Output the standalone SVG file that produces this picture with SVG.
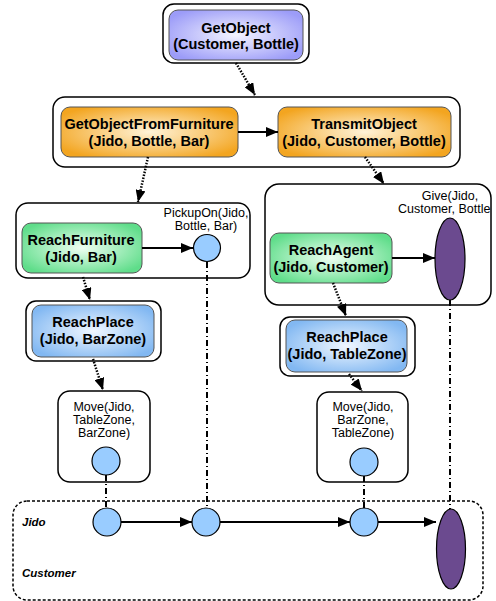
<svg xmlns="http://www.w3.org/2000/svg" width="496" height="601" viewBox="0 0 496 601">
<style>
.outer{fill:#fff;stroke:#000;stroke-width:1.5}
.inner{stroke:#555;stroke-width:1}
.lbl{font-family:"Liberation Sans",Arial,sans-serif;font-size:14.5px;font-weight:bold;text-anchor:middle;fill:#000}
.sm{font-family:"Liberation Sans",Arial,sans-serif;font-size:12.5px;text-anchor:middle;fill:#000}
.lane{font-family:"Liberation Sans",Arial,sans-serif;font-size:11.5px;font-weight:bold;font-style:italic;fill:#000}
.circ{fill:#99ccff;stroke:#000;stroke-width:1.2}
.ell{fill:#6b4a8f;stroke:#000;stroke-width:1.2}
.solid{stroke:#000;stroke-width:2;fill:none}
.dot{stroke:#000;stroke-width:2.5;stroke-dasharray:1.5 1.5;fill:none}
.dd{stroke:#000;stroke-width:2;stroke-dasharray:6 3 1 3;fill:none}
</style>
<defs>
<radialGradient id="gP" cx="50%" cy="50%" r="60%"><stop offset="0" stop-color="#f4f4ff"/><stop offset="1" stop-color="#9c9cf8"/></radialGradient>
<radialGradient id="gO" cx="50%" cy="50%" r="60%"><stop offset="0" stop-color="#fff3d8"/><stop offset="1" stop-color="#f3a520"/></radialGradient>
<radialGradient id="gG" cx="50%" cy="50%" r="60%"><stop offset="0" stop-color="#effff2"/><stop offset="1" stop-color="#5fdd8a"/></radialGradient>
<radialGradient id="gB" cx="50%" cy="50%" r="60%"><stop offset="0" stop-color="#f0f7ff"/><stop offset="1" stop-color="#82b8f2"/></radialGradient>
<marker id="ah" viewBox="0 0 12 10" refX="12" refY="5" markerWidth="12" markerHeight="10" markerUnits="userSpaceOnUse" orient="auto"><path d="M0,0 L12,5 L0,10 z" fill="#000"/></marker>
</defs>

<g id="getobject">
<rect class="outer" x="163" y="4" width="146" height="59" rx="11"/>
<rect class="inner" x="169" y="10" width="134" height="50" rx="9" fill="url(#gP)"/>
<text class="lbl" x="236" y="33">GetObject</text>
<text class="lbl" x="236" y="49">(Customer, Bottle)</text>
</g>

<g id="level2">
<rect class="outer" x="53" y="97" width="407" height="70" rx="12"/>
</g>
<g id="getobjectfromfurniture">
<rect class="inner" x="61" y="107" width="177" height="50" rx="9" fill="url(#gO)"/>
<text class="lbl" x="149" y="129">GetObjectFromFurniture</text>
<text class="lbl" x="149" y="146">(Jido, Bottle, Bar)</text>
</g>
<g id="transmitobject">
<rect class="inner" x="278" y="107" width="173" height="50" rx="9" fill="url(#gO)"/>
<text class="lbl" x="364" y="129">TransmitObject</text>
<text class="lbl" x="364" y="146">(Jido, Customer, Bottle)</text>
</g>

<g id="leftgroup">
<rect class="outer" x="16" y="203" width="234" height="75" rx="12"/>
</g>
<g id="reachfurniture">
<rect class="inner" x="22" y="223" width="120" height="50" rx="9" fill="url(#gG)"/>
<text class="lbl" x="81" y="245">ReachFurniture</text>
<text class="lbl" x="81" y="262">(Jido, Bar)</text>
</g>
<g id="pickupon">
<text class="sm" x="206" y="217">PickupOn(Jido,</text>
<text class="sm" x="206" y="230">Bottle, Bar)</text>
<circle class="circ" cx="207" cy="248" r="13.5"/>
</g>

<g id="rightgroup">
<rect class="outer" x="265" y="184" width="226" height="121" rx="14"/>
</g>
<g id="reachagent">
<rect class="inner" x="270" y="233" width="122" height="50" rx="9" fill="url(#gG)"/>
<text class="lbl" x="331" y="255">ReachAgent</text>
<text class="lbl" x="331" y="272">(Jido, Customer)</text>
</g>
<g id="give">
<text class="sm" x="450" y="200">Give(Jido,</text>
<text class="sm" x="398" y="213" style="text-anchor:start">Customer, Bottle</text>
<ellipse class="ell" cx="450" cy="259" rx="15" ry="41"/>
</g>

<g id="reachplace-bar">
<rect class="outer" x="26" y="301" width="135" height="60" rx="10"/>
<rect class="inner" x="32" y="305" width="122" height="52" rx="9" fill="url(#gB)"/>
<text class="lbl" x="93" y="327">ReachPlace</text>
<text class="lbl" x="93" y="344">(Jido, BarZone)</text>
</g>
<g id="move-left">
<rect class="outer" x="58" y="391" width="92" height="91" rx="12"/>
<text class="sm" x="104" y="411">Move(Jido,</text>
<text class="sm" x="104" y="424">TableZone,</text>
<text class="sm" x="104" y="437">BarZone)</text>
<circle class="circ" cx="106" cy="461" r="14"/>
</g>

<g id="reachplace-table">
<rect class="outer" x="280" y="317" width="135" height="59" rx="10"/>
<rect class="inner" x="286" y="320" width="121" height="52" rx="9" fill="url(#gB)"/>
<text class="lbl" x="347" y="342">ReachPlace</text>
<text class="lbl" x="347" y="359">(Jido, TableZone)</text>
</g>
<g id="move-right">
<rect class="outer" x="317" y="392" width="91" height="90" rx="12"/>
<text class="sm" x="363" y="411">Move(Jido,</text>
<text class="sm" x="363" y="424">BarZone,</text>
<text class="sm" x="363" y="437">TableZone)</text>
<circle class="circ" cx="364" cy="462" r="14"/>
</g>

<g id="timeline">
<rect x="13" y="501" width="470" height="99" rx="14" fill="none" stroke="#000" stroke-width="1.5" stroke-dasharray="3 2"/>
<text class="lane" x="22" y="526">Jido</text>
<text class="lane" x="22" y="577">Customer</text>
<circle class="circ" cx="107" cy="522" r="14"/>
<circle class="circ" cx="206" cy="522" r="14"/>
<circle class="circ" cx="364" cy="522" r="14"/>
<ellipse class="ell" cx="451" cy="549" rx="14.5" ry="40"/>
</g>

<g id="connectors">
<path class="dot" d="M236,63 L255,95" marker-end="url(#ah)"/>
<path class="solid" d="M238,132 L278,132" marker-end="url(#ah)"/>
<path class="dot" d="M148,157 L138,202" marker-end="url(#ah)"/>
<path class="dot" d="M365,157 L384,184" marker-end="url(#ah)"/>
<path class="solid" d="M142,248 L193,248" marker-end="url(#ah)"/>
<path class="solid" d="M392,258 L435,258" marker-end="url(#ah)"/>
<path class="dot" d="M83,277 L90,300" marker-end="url(#ah)"/>
<path class="dot" d="M333,283 L346,316" marker-end="url(#ah)"/>
<path class="dot" d="M93,359 L103,390" marker-end="url(#ah)"/>
<path class="dot" d="M349,374 L362,391" marker-end="url(#ah)"/>
<path class="dd" d="M106,475 L106,508"/>
<path class="dd" d="M207,262 L207,508"/>
<path class="dd" d="M364,476 L364,508"/>
<path class="dd" d="M450,300 L450,509"/>
<path class="solid" d="M121,522 L192,522" marker-end="url(#ah)"/>
<path class="solid" d="M220,522 L350,522" marker-end="url(#ah)"/>
<path class="solid" d="M378,522 L436,522" marker-end="url(#ah)"/>
</g>
</svg>
